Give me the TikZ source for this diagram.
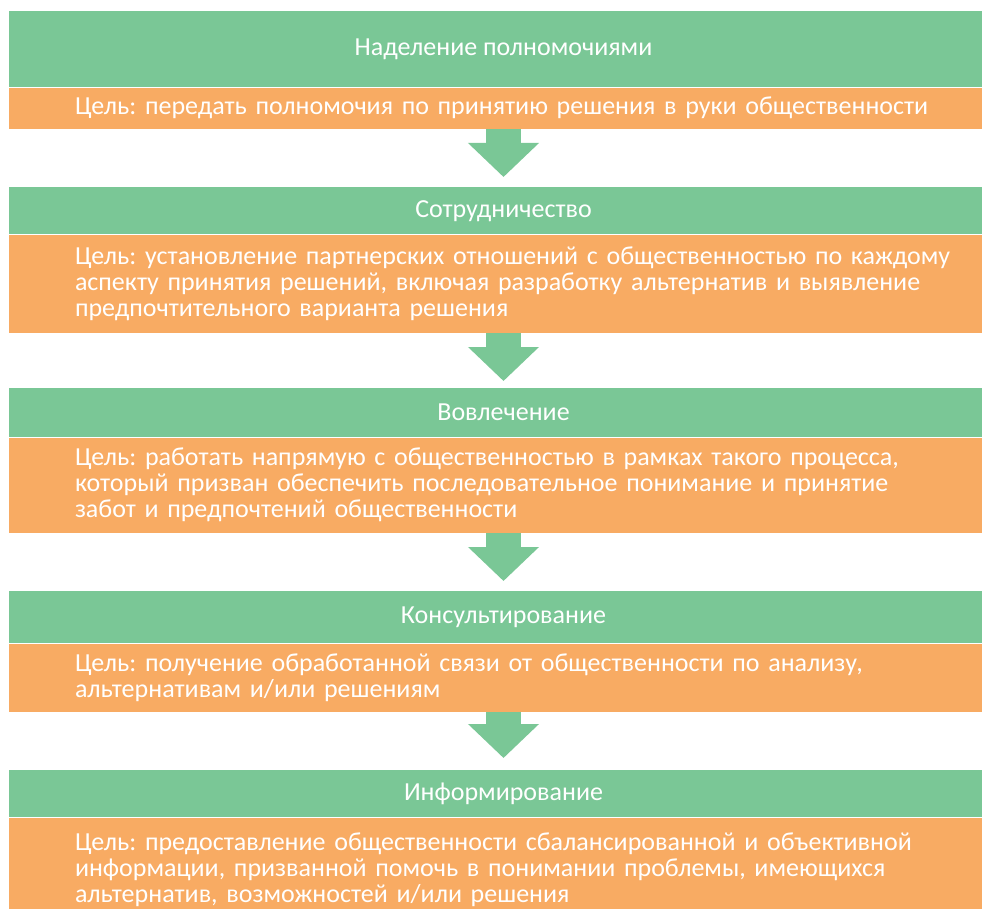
\documentclass[tikz,border=0pt]{standalone}
\usepackage{fontspec}
\setmainfont{Carlito}
\frenchspacing
\usetikzlibrary{arrows.meta, positioning}

\definecolor{stagegreen}{RGB}{122,199,150}
\definecolor{goalorange}{RGB}{248,171,99}

\tikzset{
	stage/.style={fill=stagegreen, text=white, anchor=north, minimum width=989pt, inner sep=0pt, font=\fontsize{26}{26}\selectfont},
	goal/.style={fill=goalorange, text=white, anchor=north west, text width=907pt, inner xsep=66pt, inner ysep=0pt, align=left, font=\fontsize{26}{26}\selectfont},
	flow/.style={draw=stagegreen, line width=35pt, -{Triangle[width=69pt,length=34pt]}}
}

\begin{document}
\begin{tikzpicture}[x=1pt, y=-1pt]
		\useasboundingbox (0,0) rectangle (982,909);
		\clip (0,0) rectangle (982,909);
		% levels, from top to bottom
		\node[stage, minimum height=76pt](h1) at (503.5,11) {Наделение полномочиями};
		\node[goal, minimum height=41pt](g1) at (h1.south west) {Цель: передать полномочия по принятию решения в руки общественности};
		\node[stage, minimum height=47pt](h2) at (503.5,187) {Сотрудничество};
		\node[goal, minimum height=98pt](g2) at (h2.south west) {Цель: установление партнерских отношений с общественностью по каждому\\аспекту принятия решений, включая разработку альтернатив и выявление\\предпочтительного варианта решения};
		\node[stage, minimum height=49pt](h3) at (503.5,388) {Вовлечение};
		\node[goal, minimum height=95pt](g3) at (h3.south west) {Цель: работать напрямую с общественностью в рамках такого процесса,\\который призван обеспечить последовательное понимание и принятие\\забот и предпочтений общественности};
		\node[stage, minimum height=52pt](h4) at (503.5,591) {Консультирование};
		\node[goal, minimum height=68pt](g4) at (h4.south west) {Цель: получение обработанной связи от общественности по анализу,\\альтернативам и/или решениям};
		\node[stage, minimum height=47pt](h5) at (503.5,770) {Информирование};
		\node[goal, minimum height=104pt](g5) at (h5.south west) {Цель: предоставление общественности сбалансированной и объективной\\информации, призванной помочь в понимании проблемы, имеющихся\\альтернатив, возможностей и/или решения};
		% arrows between levels
		\draw [flow] (g1.south -| h2.north) -- ([yshift=10pt]h2.north);
		\draw [flow] (g2.south -| h3.north) -- ([yshift=7pt]h3.north);
		\draw [flow] (g3.south -| h4.north) -- ([yshift=10pt]h4.north);
		\draw [flow] (g4.south -| h5.north) -- ([yshift=12pt]h5.north);
	\end{tikzpicture}
\end{document}
